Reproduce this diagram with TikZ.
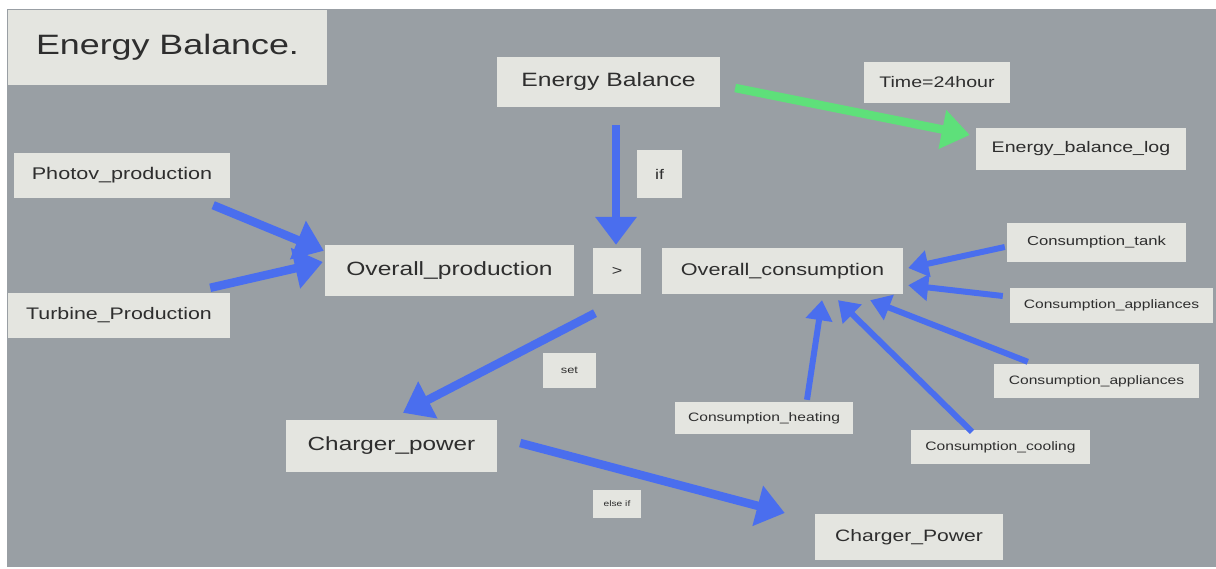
\documentclass[tikz,border=0pt]{standalone}
\usepackage{fontspec}
\setmainfont{Liberation Sans}
\usetikzlibrary{arrows.meta,calc}
\definecolor{slate}{HTML}{999FA4}
\definecolor{card}{HTML}{E4E5E0}
\definecolor{ink}{HTML}{2E2E2E}
\definecolor{flow}{HTML}{4A6EEE}
\definecolor{logflow}{HTML}{5EE07A}
% wide lettering, as on the slide
\newcommand{\widetext}[2]{\fontsize{#1}{#1}\selectfont\scalebox{1.28}[1]{#2}}
\tikzset{
  card/.style={fill=card, draw=none, inner sep=0pt, text=ink, align=center},
  bigarrow/.style={draw=flow, line width=8.5pt, -{Triangle[length=28pt,width=40pt]}},
  smallarrow/.style={draw=flow, line width=6pt, -{Triangle[length=20pt,width=26pt]}},
}
\begin{document}
\begin{tikzpicture}[x=1pt,y=-1pt]
\useasboundingbox (0,0) rectangle (1216,569);
\fill[white] (0,0) rectangle (1216,569);
\fill[slate] (7,9) rectangle (1216,567);

% boxes
\node[card, minimum width=319, minimum height=75] (title) at (167.5,47.5) {\widetext{28}{Energy Balance.}};
\node[card, minimum width=223, minimum height=50] (eb) at (608.5,82) {\widetext{19.3}{Energy Balance}};
\node[card, minimum width=146, minimum height=41] (time) at (937,82.5) {\widetext{15.3}{Time=24hour}};
\node[card, minimum width=210, minimum height=42] (eblog) at (1081,149) {\widetext{15.3}{Energy\_balance\_log}};
\node[card, minimum width=45, minimum height=48] (ifb) at (659.5,174) {\widetext{14}{if}};
\node[card, minimum width=216, minimum height=45] (pv) at (122,175.5) {\widetext{16.9}{Photov\_production}};
\node[card, minimum width=222, minimum height=45] (tp) at (119,315.5) {\widetext{16.7}{Turbine\_Production}};
\node[card, minimum width=249, minimum height=51] (op) at (449.5,270.5) {\widetext{19.2}{Overall\_production}};
\node[card, minimum width=48, minimum height=46] (gt) at (617,271) {\widetext{14}{>}};
\node[card, minimum width=241, minimum height=46] (oc) at (782.5,271) {\widetext{16.9}{Overall\_consumption}};
\node[card, minimum width=179, minimum height=39] (ctank) at (1096.5,242.5) {\widetext{13}{Consumption\_tank}};
\node[card, minimum width=203, minimum height=35] (capa) at (1111.5,305.5) {\widetext{12.2}{Consumption\_appliances}};
\node[card, minimum width=205, minimum height=34] (capb) at (1096.5,381) {\widetext{12.2}{Consumption\_appliances}};
\node[card, minimum width=178, minimum height=32] (cheat) at (764,418) {\widetext{12.2}{Consumption\_heating}};
\node[card, minimum width=179, minimum height=34] (ccool) at (1000.5,447) {\widetext{12.2}{Consumption\_cooling}};
\node[card, minimum width=53, minimum height=35] (setb) at (569.5,370.5) {\widetext{10}{set}};
\node[card, minimum width=211, minimum height=52] (cp) at (391.5,446) {\widetext{19}{Charger\_power}};
\node[card, minimum width=48, minimum height=28] (elseb) at (617,504) {\widetext{8}{else if}};
\node[card, minimum width=188, minimum height=46] (cP) at (909,537) {\widetext{16.5}{Charger\_Power}};

% connectors
\draw[draw=logflow, line width=8.5pt, -{Triangle[length=28pt,width=38pt]}]
  ($(eb.east)+(15,6)$) -- ($(eblog.west)+(-6,-14)$);
\draw[bigarrow] ($(eb.south)+(7.5,18)$) -- ($(gt.north)+(-1,-3)$);
\draw[bigarrow] ($(pv.south east)+(-17,7)$) -- ($(op.north west)+(-1,6)$);
\draw[bigarrow] ($(tp.north east)+(-20,-5)$) -- ($(op.west)+(-2,-8.5)$);
\draw[bigarrow] ($(gt.south)+(-22,19)$) -- ($(cp.north)+(11.5,-7)$);
\draw[bigarrow] ($(cp.east)+(23,-3)$) -- ($(cP.west)+(-30,-24)$);
\draw[smallarrow] ($(ctank.west)+(-2,4.5)$) -- ($(oc.east)+(5,-3)$);
\draw[smallarrow] ($(capa.west)+(-7,-9.5)$) -- ($(oc.south east)+(5,-9)$);
\draw[smallarrow] ($(capb.north west)+(34,-2)$) -- ($(oc.south east)+(-33,6)$);
\draw[smallarrow] ($(ccool.north)+(-28.5,2)$) -- ($(oc.south)+(55.5,6)$);
\draw[smallarrow] ($(cheat.north)+(43,-2)$) -- ($(oc.south)+(39.5,6)$);
\end{tikzpicture}
\end{document}
